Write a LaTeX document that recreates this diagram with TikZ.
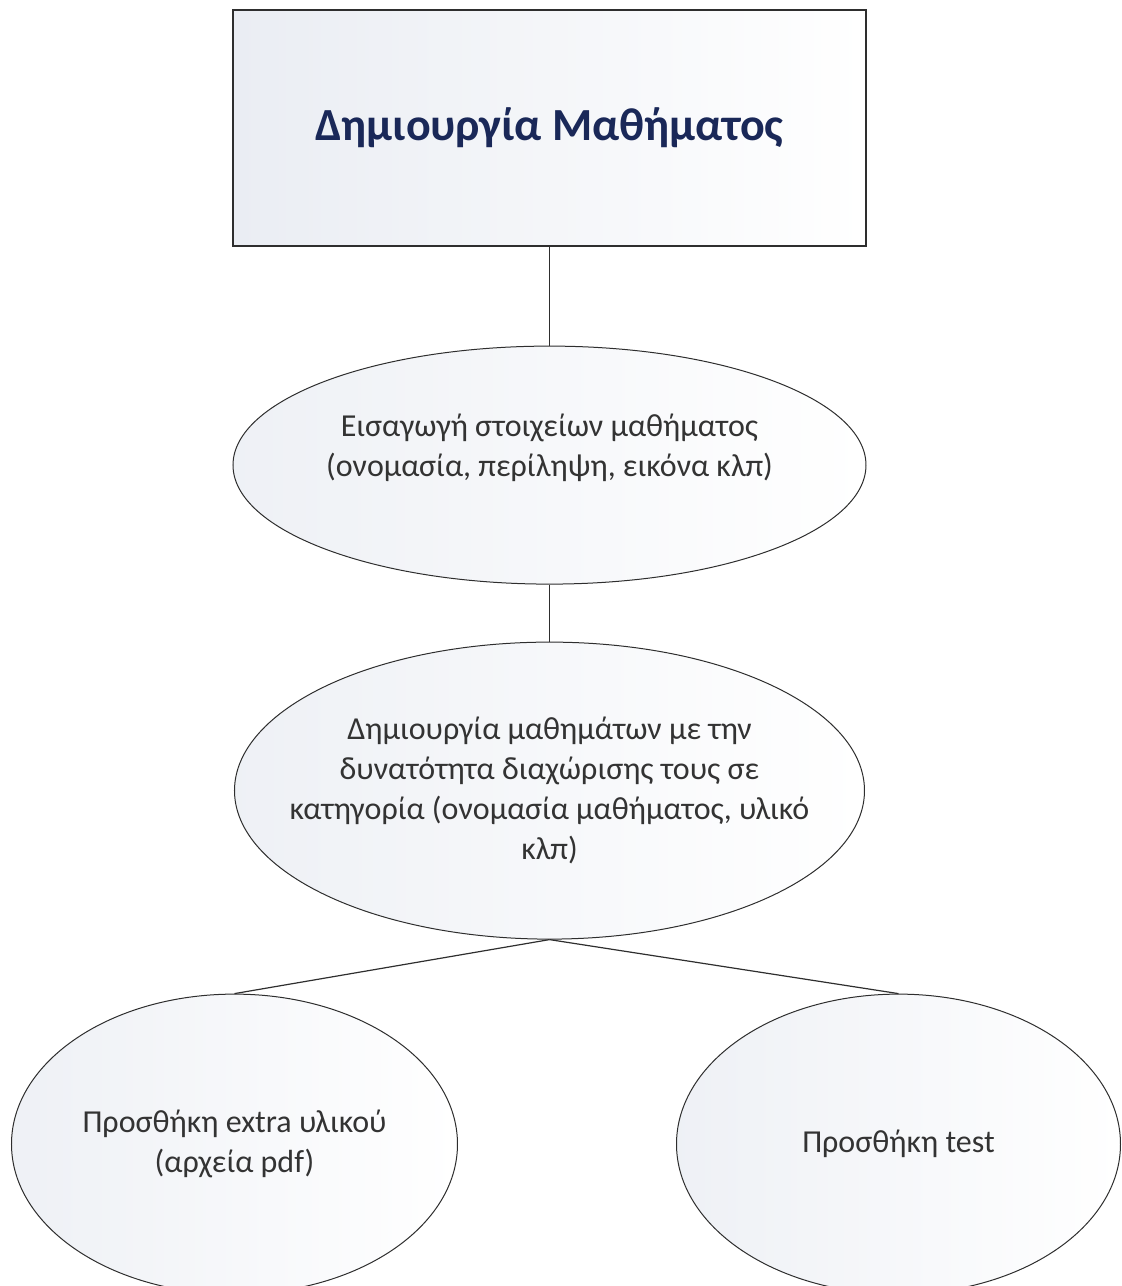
\documentclass[tikz,border=0pt]{standalone}
\usepackage{fontspec}
\setmainfont{Carlito}
\usepackage{xcolor}
\usetikzlibrary{shapes.geometric, positioning}
\definecolor{navytext}{HTML}{1A2858}
\definecolor{bodytext}{HTML}{333333}
\definecolor{edgegray}{HTML}{2E2E2E}
\definecolor{shadeblue}{HTML}{EAEDF3}
\tikzset{
    titlebox/.style={
        rectangle,
        draw=edgegray,
        line width=0.6pt,
        minimum width=316.5pt,
        minimum height=118pt,
        left color=shadeblue,
        right color=white,
        text=navytext,
        font=\fontsize{23}{28}\selectfont\bfseries
    },
    topic/.style={
        ellipse,
        draw=edgegray,
        line width=0.5pt,
        inner sep=0pt,
        align=center,
        left color=shadeblue!80,
        right color=white,
        text=bodytext,
        font=\fontsize{16}{20}\selectfont
    },
    link/.style={
        draw=edgegray,
        line width=0.6pt
    }
}
\begin{document}
\begin{tikzpicture}
\useasboundingbox (-274.75pt,64pt) rectangle (285.75pt,-579pt);

% Main title box
\node[titlebox] (course) at (0,0) {Δημιουργία Μαθήματος};

% Course details and lessons
\node[topic, minimum width=316.5pt, minimum height=119pt, below=49.5pt of course] (details)
    {Εισαγωγή στοιχείων μαθήματος\\(ονομασία, περίληψη, εικόνα κλπ)\\\mbox{}};
\node[topic, inner xsep=-30pt, minimum width=315pt, minimum height=148.5pt, below=28.5pt of details] (lessons)
    {Δημιουργία μαθημάτων με την\\δυνατότητα διαχώρισης τους σε\\κατηγορία (ονομασία μαθήματος, υλικό\\κλπ)};

% Leaves
\node[topic, minimum width=223pt, minimum height=150pt, below=27pt of lessons, xshift=-157.5pt] (extras)
    {Προσθήκη extra υλικού\\(αρχεία pdf)};
\node[topic, minimum width=222pt, minimum height=150pt, below=27pt of lessons, xshift=174.5pt] (tests)
    {Προσθήκη test};

% Connections
\draw[link] (course.south) -- (details.north);
\draw[link] (details.south) -- (lessons.north);
\draw[link] (lessons.south) -- (extras.north);
\draw[link] (lessons.south) -- (tests.north);

\end{tikzpicture}
\end{document}
